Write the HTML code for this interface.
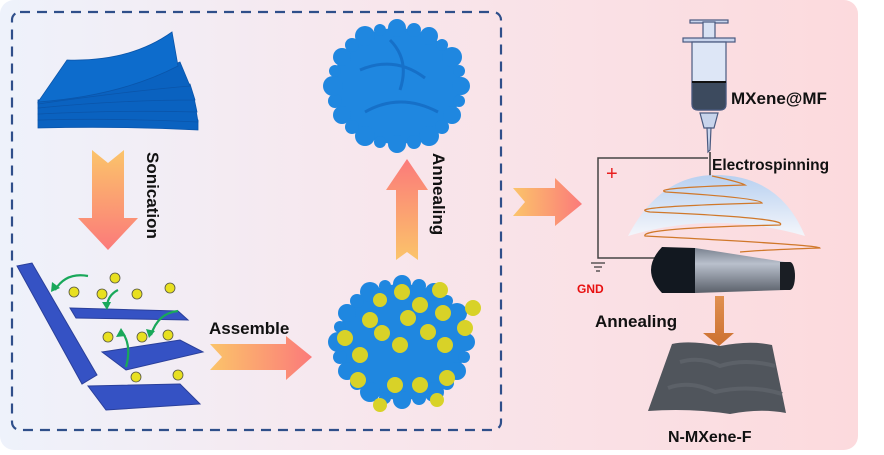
<!DOCTYPE html>
<html><head><style>
body{margin:0;background:#fff;}
svg{display:block;font-family:"Liberation Sans",Arial,sans-serif;}
</style></head><body>
<svg width="884" height="455" viewBox="0 0 884 455" xmlns="http://www.w3.org/2000/svg">
<defs>
<linearGradient id="bg" x1="0" y1="0" x2="1" y2="0">
<stop offset="0" stop-color="#eef2fb"/><stop offset="0.45" stop-color="#f8e6ec"/><stop offset="1" stop-color="#fcdadd"/>
</linearGradient>
<linearGradient id="arD" x1="0" y1="0" x2="0" y2="1"><stop offset="0" stop-color="#fbc46a"/><stop offset="1" stop-color="#fb7a7a"/></linearGradient>
<linearGradient id="arU" x1="0" y1="1" x2="0" y2="0"><stop offset="0" stop-color="#fbc46a"/><stop offset="1" stop-color="#fb7a7a"/></linearGradient>
<linearGradient id="arR" x1="0" y1="0" x2="1" y2="0"><stop offset="0" stop-color="#fbc46a"/><stop offset="1" stop-color="#fb7a7a"/></linearGradient>
<linearGradient id="dome" x1="0" y1="0" x2="0" y2="1"><stop offset="0" stop-color="#b8d0f0"/><stop offset="1" stop-color="#f4f6fb"/></linearGradient>
<linearGradient id="cyl" x1="0" y1="0" x2="0" y2="1"><stop offset="0" stop-color="#7a8290"/><stop offset="0.35" stop-color="#b9c0cc"/><stop offset="1" stop-color="#5a606a"/></linearGradient>
<linearGradient id="brown" x1="0" y1="0" x2="0" y2="1"><stop offset="0" stop-color="#e09050"/><stop offset="1" stop-color="#cc7030"/></linearGradient>
<g id="blob" fill="#1f87e0">
<ellipse cx="0" cy="0" rx="64" ry="58"/>
<circle cx="64" cy="0" r="9"/><circle cx="62" cy="15" r="6"/><circle cx="55" cy="29" r="9"/><circle cx="45" cy="41" r="7"/><circle cx="32" cy="50" r="10"/><circle cx="17" cy="56" r="7"/><circle cx="0" cy="58" r="9"/>
<circle cx="-17" cy="56" r="6"/><circle cx="-32" cy="50" r="10"/><circle cx="-45" cy="41" r="7"/><circle cx="-55" cy="29" r="9"/><circle cx="-62" cy="15" r="7"/><circle cx="-64" cy="0" r="10"/>
<circle cx="-62" cy="-15" r="6"/><circle cx="-55" cy="-29" r="9"/><circle cx="-45" cy="-41" r="7"/><circle cx="-32" cy="-50" r="10"/><circle cx="-17" cy="-56" r="6"/><circle cx="0" cy="-58" r="9"/>
<circle cx="17" cy="-56" r="7"/><circle cx="32" cy="-50" r="9"/><circle cx="45" cy="-41" r="6"/><circle cx="55" cy="-29" r="10"/><circle cx="62" cy="-15" r="6"/>
</g>
</defs>
<rect x="0" y="0" width="858" height="450" rx="14" fill="url(#bg)"/>
<rect x="12" y="12" width="489" height="418" rx="8" fill="none" stroke="#2f4f8a" stroke-width="2.2" stroke-dasharray="10 7"/>

<!-- stacked sheets -->
<g fill="#0a62c0" stroke="#0a55aa" stroke-width="0.8">
<path d="M38 120 Q120 116 198 120 L198 130 Q120 126 38 128 Z"/>
<path d="M38 114 Q120 108 196 110 L198 122 Q120 118 38 120 Z"/>
<path d="M38 108 Q120 98 194 98 L197 112 Q120 110 38 114 Z"/>
<path d="M38 102 Q120 90 190 84 L195 100 Q120 100 38 108 Z"/>
<path d="M38 100 Q120 88 180 62 L190 86 Q120 92 38 104 Z"/>
<path d="M67 60 Q130 62 172 32 L178 66 Q120 96 38 102 Z" fill="#0d6ccc"/>
</g>
<!-- down arrow -->
<path d="M92 150 L108 163 L124 150 L124 218 L138 218 L108 250 L78 218 L92 218 Z" fill="url(#arD)"/>
<text transform="translate(147,152) rotate(90)" font-size="17" font-weight="bold" fill="#111">Sonication</text>

<!-- bottom-left sheets -->
<g fill="#3552c4" stroke="#2a3f9a" stroke-width="1">
<path d="M17 266 L32 263 L97 375 L82 384 Z"/>
<path d="M70 308 L178 311 L188 320 L76 318 Z"/>
<path d="M102 352 L180 340 L203 352 L126 370 Z"/>
<path d="M88 386 L180 384 L200 404 L106 410 Z"/>
</g>
<g fill="none" stroke="#19a85a" stroke-width="2.2">
<path d="M88 276 Q66 272 55 290"/><path d="M118 290 Q108 295 107 306"/>
<path d="M178 311 Q158 313 151 335"/><path d="M126 367 Q132 345 122 332"/>
</g>
<g fill="#19a85a"><path d="M51 292 L52 282 L60 288 Z"/><path d="M107 310 L102 302 L111 302 Z"/><path d="M149 338 L146 329 L155 331 Z"/><path d="M121 328 L116 337 L126 336 Z"/></g>
<g fill="#e8e020" stroke="#554" stroke-width="0.8">
<circle cx="74" cy="292" r="5"/><circle cx="102" cy="294" r="5"/><circle cx="115" cy="278" r="5"/>
<circle cx="137" cy="294" r="5"/><circle cx="170" cy="288" r="5"/><circle cx="108" cy="337" r="5"/>
<circle cx="142" cy="337" r="5"/><circle cx="168" cy="335" r="5"/><circle cx="136" cy="377" r="5"/><circle cx="178" cy="375" r="5"/>
</g>

<text x="209" y="334" font-size="17" font-weight="bold" fill="#111">Assemble</text>
<path d="M210 344 L286 344 L286 336 L312 357 L286 380 L286 370 L210 370 L222 357 Z" fill="url(#arR)"/>

<!-- top blob -->
<use href="#blob" transform="translate(397,86)"/>
<path d="M360 70 Q395 55 425 78 M365 112 Q400 92 438 112 M390 40 Q410 60 400 90" stroke="#1670c8" stroke-width="3" fill="none"/>

<!-- up arrow -->
<path d="M396 260 L407 252 L418 260 L418 190 L428 190 L407 159 L386 190 L396 190 Z" fill="url(#arU)"/>
<text transform="translate(433,153) rotate(90)" font-size="17" font-weight="bold" fill="#111">Annealing</text>

<!-- bottom blob with balls -->
<use href="#blob" transform="translate(402,342)"/>
<g fill="#d8d228">
<circle cx="402" cy="292" r="8"/><circle cx="440" cy="290" r="8"/><circle cx="420" cy="305" r="8"/><circle cx="380" cy="300" r="7"/>
<circle cx="370" cy="320" r="8"/><circle cx="408" cy="318" r="8"/><circle cx="443" cy="313" r="8"/><circle cx="473" cy="308" r="8"/>
<circle cx="345" cy="338" r="8"/><circle cx="382" cy="333" r="8"/><circle cx="428" cy="332" r="8"/><circle cx="465" cy="328" r="8"/>
<circle cx="360" cy="355" r="8"/><circle cx="400" cy="345" r="8"/><circle cx="445" cy="345" r="8"/><circle cx="420" cy="385" r="8"/>
<circle cx="358" cy="380" r="8"/><circle cx="395" cy="385" r="8"/><circle cx="447" cy="378" r="8"/><circle cx="380" cy="405" r="7"/><circle cx="437" cy="400" r="7"/>
</g>

<!-- right arrow -->
<path d="M513 188 L555 188 L555 178 L582 204 L555 226 L555 216 L513 216 L525 202 Z" fill="url(#arR)"/>

<!-- syringe -->
<g stroke="#4a5a80" stroke-width="1.2">
<rect x="690" y="20" width="38" height="3" fill="#c8d4ec"/>
<rect x="703" y="22" width="12" height="18" fill="#d8e2f4"/>
<rect x="683" y="38" width="52" height="4" fill="#c8d4ec"/>
<path d="M692 42 L726 42 Q726 42 726 50 L726 104 Q726 110 720 110 L698 110 Q692 110 692 104 L692 50 Z" fill="#dde6f6"/>
<path d="M692 82 L726 82 L726 104 Q726 110 720 110 L698 110 Q692 110 692 104 Z" fill="#3c4a5e"/>
<path d="M700 113 L718 113 L714 128 L704 128 Z" fill="#c8d4ec"/>
<path d="M707 128 L711 128 L710 150 L708 152 Z" fill="#c8d4ec"/>
</g>
<line x1="692" y1="82" x2="726" y2="82" stroke="#111" stroke-width="2"/>
<text x="731" y="104" font-size="17" font-weight="bold" fill="#111">MXene@MF</text>
<text x="712" y="170" font-size="15.5" font-weight="bold" fill="#111">Electrospinning</text>

<!-- wires -->
<path d="M708 158 L598 158 L598 258 L658 258" fill="none" stroke="#444" stroke-width="1.5"/>
<path d="M710 152 L710 176" stroke="#333" stroke-width="1.5"/>
<text x="606" y="180" font-size="20" fill="#e82020">+</text>
<g stroke="#333" stroke-width="1.2"><line x1="591" y1="263" x2="605" y2="263"/><line x1="594" y1="267" x2="602" y2="267"/><line x1="596" y1="271" x2="600" y2="271"/></g>
<text x="577" y="293" font-size="12" font-weight="bold" fill="#e81010">GND</text>

<!-- dome -->
<path d="M628 236 Q660 175 715 175 Q780 175 805 236 Q715 210 628 236 Z" fill="url(#dome)"/>
<path d="M712 176 Q740 182 745 185 Q650 188 666 192 Q760 198 762 203 Q620 207 650 212 Q790 218 780 225 Q640 228 645 236 Q820 245 820 248 Q760 250 740 252" fill="none" stroke="#d0782a" stroke-width="1.3"/>

<!-- cylinder -->
<path d="M695 248 L785 262 L785 290 L695 293 Z" fill="url(#cyl)"/>
<rect x="780" y="262" width="10" height="28" fill="#1a1e24"/>
<ellipse cx="790" cy="276" rx="5" ry="14" fill="#1a1e24"/>
<path d="M662 247 L695 248 L695 293 L662 293 Q640 270 662 247 Z" fill="#121820"/>

<text x="595" y="327" font-size="17" font-weight="bold" fill="#111">Annealing</text>
<path d="M715 296 L724 296 L724 333 L734 333 L719 346 L703 333 L715 333 Z" fill="url(#brown)"/>

<!-- surface -->
<path d="M672 344 Q690 340 720 346 Q750 340 772 345 L786 413 Q760 408 730 414 Q690 408 648 411 Z" fill="#50555c"/>
<path d="M680 362 Q700 356 720 366 Q745 358 775 366 M668 388 Q690 380 715 392 Q750 384 782 394" stroke="#5c6168" stroke-width="4" fill="none"/>
<text x="668" y="442" font-size="16" font-weight="bold" fill="#111">N-MXene-F</text>
</svg>
</body></html>
